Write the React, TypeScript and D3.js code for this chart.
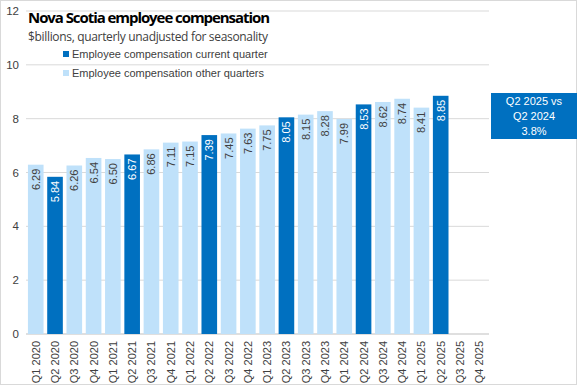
import React from 'react';
import * as d3 from 'd3';

const quarters = [
  'Q1 2020', 'Q2 2020', 'Q3 2020', 'Q4 2020',
  'Q1 2021', 'Q2 2021', 'Q3 2021', 'Q4 2021',
  'Q1 2022', 'Q2 2022', 'Q3 2022', 'Q4 2022',
  'Q1 2023', 'Q2 2023', 'Q3 2023', 'Q4 2023',
  'Q1 2024', 'Q2 2024', 'Q3 2024', 'Q4 2024',
  'Q1 2025', 'Q2 2025', 'Q3 2025', 'Q4 2025',
];
// null = not yet published
const compensation: (number | null)[] = [
  6.29, 5.84, 6.26, 6.54,
  6.50, 6.67, 6.86, 7.11,
  7.15, 7.39, 7.45, 7.63,
  7.75, 8.05, 8.15, 8.28,
  7.99, 8.53, 8.62, 8.74,
  8.41, 8.85, null, null,
];
const currentQuarter = 'Q2';
const yTicks = [0, 2, 4, 6, 8, 10, 12];
const legendLabels = [
  'Employee compensation current quarter',
  'Employee compensation other quarters',
];
const calloutLines = ['Q2 2025 vs', 'Q2 2024', '3.8%'];

const W = 577, H = 385;
const DARK = '#0070C0', LIGHT = '#BFE1FA';
const FONT = "'Liberation Sans', Arial, sans-serif";
const TITLE_FONT = "'Open Sans', 'Liberation Sans', Arial, sans-serif";

export default function App() {
  const x = d3.scaleBand().domain(quarters).range([26, 489]).paddingInner(0.19).paddingOuter(0.1);
  const y = d3.scaleLinear().domain([0, 12]).range([334, 11]);

  return (
    <svg width={W} height={H} style={{ display: 'block', position: 'absolute', left: 0, top: 0 }}>
      <rect x={0.5} y={0.5} width={W - 1} height={H - 1} fill="#fff" stroke="#d9d9d9" />

      {yTicks.map(t => (
        <g key={t}>
          {t > 0 && <line x1={26} x2={489} y1={y(t)} y2={y(t)} stroke="#d9d9d9" />}
          <text x={19} y={y(t) + 4} textAnchor="end" fontSize={11.5} fill="#404040" fontFamily={FONT}>{t}</text>
        </g>
      ))}
      <line x1={26} x2={489} y1={y(0)} y2={y(0)} stroke="#bfbfbf" />

      {quarters.map((q, i) => {
        const v = compensation[i];
        const cx = (x(q) ?? 0) + x.bandwidth() / 2;
        const isCur = q.startsWith(currentQuarter);
        return (
          <g key={q}>
            {v != null && (
              <>
                <rect x={x(q)} y={y(v)} width={x.bandwidth()} height={y(0) - y(v)} fill={isCur ? DARK : LIGHT} />
                <text transform={`translate(${cx + 4},${y(v) + 4}) rotate(-90)`} textAnchor="end"
                  fontSize={11} fill={isCur ? '#fff' : '#404040'} fontFamily={FONT}>{v.toFixed(2)}</text>
              </>
            )}
            <text transform={`translate(${cx + 4},${y(0) + 7}) rotate(-90)`} textAnchor="end"
              fontSize={11} fill="#404040" fontFamily={FONT}>{q}</text>
          </g>
        );
      })}

      <text x={28} y={23} fontSize={15} fontWeight="bold" fill="#000" fontFamily={TITLE_FONT} textLength={242}>Nova Scotia employee compensation</text>
      <text x={28} y={41} fontSize={12} fill="#404040" fontFamily={TITLE_FONT} textLength={240}>$billions, quarterly unadjusted for seasonality</text>

      {legendLabels.map((l, i) => (
        <g key={l}>
          <rect x={63} y={51 + i * 19} width={6} height={6} fill={i === 0 ? DARK : LIGHT} />
          <text x={72} y={58 + i * 19} fontSize={11} fill="#404040" fontFamily={FONT}>{l}</text>
        </g>
      ))}

      <rect x={491} y={93} width={86} height={46} fill={DARK} />
      {calloutLines.map((l, i) => (
        <text key={l} x={534} y={105 + i * 15} textAnchor="middle" fontSize={11} fill="#fff" fontFamily={FONT}>{l}</text>
      ))}
    </svg>
  );
}
